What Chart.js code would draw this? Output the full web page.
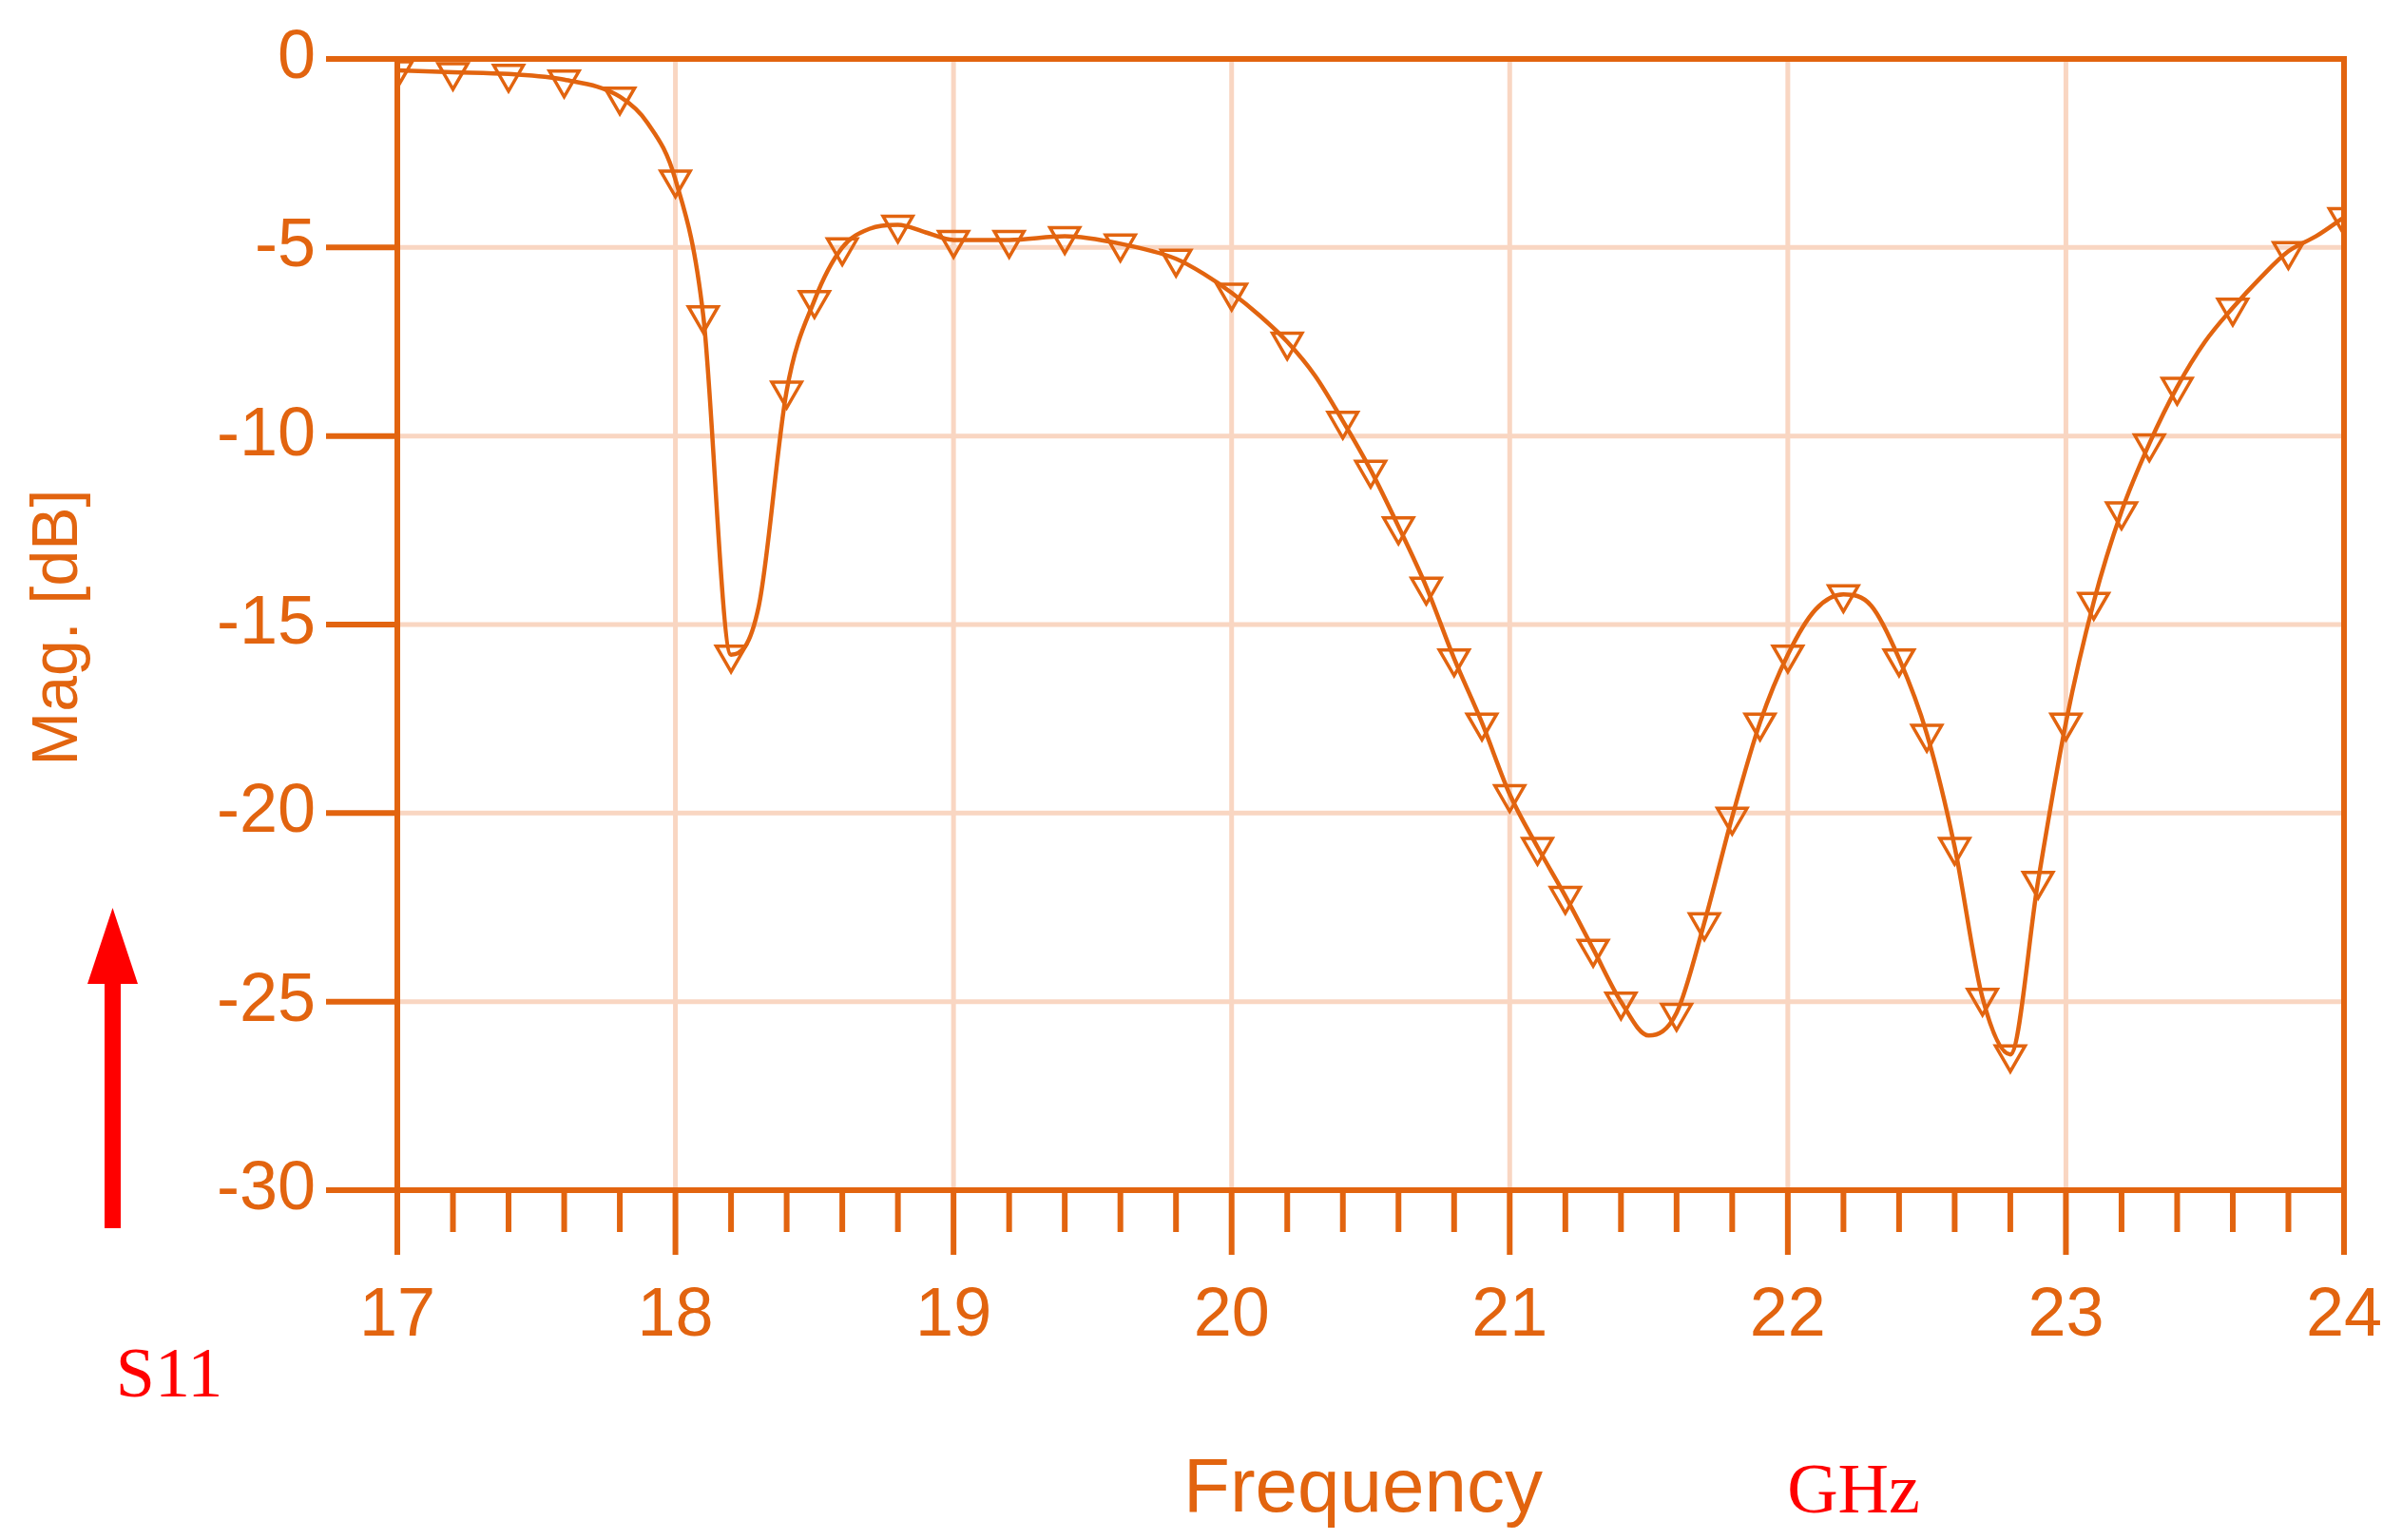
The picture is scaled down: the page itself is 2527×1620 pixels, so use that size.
<!DOCTYPE html>
<html><head><meta charset="utf-8">
<script src="https://cdn.jsdelivr.net/npm/chart.js@4/dist/chart.umd.min.js"></script>
<style>html,body{margin:0;padding:0;background:#fff}#w{width:2527px;height:1620px}</style>
</head><body><div id="w"><canvas id="c"></canvas></div>
<script>
const markerFreq = [17.0,17.2,17.4,17.6,17.8,18.0,18.1,18.2,18.4,18.5,18.6,18.8,19.0,19.2,19.4,19.6,19.8,20.0,20.2,20.4,20.5,20.6,20.7,20.8,20.9,21.0,21.1,21.2,21.3,21.4,21.6,21.7,21.8,21.9,22.0,22.2,22.4,22.5,22.6,22.7,22.8,22.9,23.0,23.1,23.2,23.3,23.4,23.6,23.8,24.0];
const markerMag = [-0.3,-0.35,-0.4,-0.55,-1.0,-3.2,-6.8,-15.8,-8.8,-6.4,-5.0,-4.4,-4.8,-4.8,-4.7,-4.9,-5.3,-6.2,-7.5,-9.6,-10.9,-12.4,-14.0,-15.9,-17.6,-19.5,-20.9,-22.2,-23.6,-25.0,-25.3,-22.9,-20.1,-17.6,-15.8,-14.2,-15.9,-17.9,-20.9,-24.9,-26.4,-21.8,-17.6,-14.4,-12.0,-10.2,-8.7,-6.6,-5.1,-4.2];
const extraFreq = [17.9,18.3,18.7,18.9,19.9,20.1,20.3,21.5,22.1,22.3,23.5,23.7,23.9];
const extraMag = [-1.7,-14.5,-4.5,-4.6,-5.7,-6.8,-8.4,-25.9,-14.6,-14.5,-7.5,-5.8,-4.7];
const yTicks = [0,-5,-10,-15,-20,-25,-30];
const xTicks = [17,18,19,20,21,22,23,24];

const ORANGE = '#e2640f', GRID = '#f9d6c2';
const FONT = '"Liberation Sans", Arial, sans-serif';
const linePts = markerFreq.map((f,i)=>({x:f,y:markerMag[i]})).concat(extraFreq.map((f,i)=>({x:f,y:extraMag[i]}))).sort((a,b)=>a.x-b.x);
const markPts = markerFreq.map((f,i)=>({x:f,y:markerMag[i]}));

const deco = {
  id:'deco',
  beforeDatasetsDraw(ch){
    const c=ch.ctx, a=ch.chartArea, xs=ch.scales.x, ys=ch.scales.y;
    c.save();
    c.strokeStyle=GRID; c.lineWidth=5;
    xTicks.forEach(v=>{const p=xs.getPixelForValue(v);c.beginPath();c.moveTo(p,a.top);c.lineTo(p,a.bottom);c.stroke();});
    yTicks.forEach(v=>{const p=ys.getPixelForValue(v);c.beginPath();c.moveTo(a.left,p);c.lineTo(a.right,p);c.stroke();});
    c.restore();
  },
  afterDraw(ch){
    const c=ch.ctx, a=ch.chartArea, xs=ch.scales.x, ys=ch.scales.y;
    c.save();
    c.strokeStyle=ORANGE; c.lineWidth=6;
    c.beginPath();c.moveTo(a.left,a.top);c.lineTo(a.right,a.top);c.lineTo(a.right,a.bottom);c.lineTo(a.left,a.bottom);c.closePath();c.stroke();
    yTicks.forEach(v=>{const p=ys.getPixelForValue(v);c.beginPath();c.moveTo(a.left-75,p);c.lineTo(a.left,p);c.stroke();});
    for(let i=0;i<=35;i++){const v=17+i*0.2;const p=xs.getPixelForValue(v);const maj=(i%5===0);
      c.beginPath();c.moveTo(p,a.bottom);c.lineTo(p,a.bottom+(maj?68:44));c.stroke();}
    c.fillStyle=ORANGE; c.font='72px '+FONT; c.textBaseline='middle';
    c.textAlign='right';
    yTicks.forEach(v=>c.fillText(String(v),332,ys.getPixelForValue(v)));
    c.textAlign='center';
    xTicks.forEach(v=>c.fillText(String(v),xs.getPixelForValue(v),1385));
    c.font='80px '+FONT;
    c.fillText('Frequency',1434,1568);
    c.save(); c.translate(62,660); c.rotate(-Math.PI/2); c.font='68px '+FONT; c.fillText('Mag. [dB]',0,0); c.restore();
    c.fillStyle='#f00'; c.font='74px "Liberation Serif", "Times New Roman", serif';
    c.fillText('GHz',1950,1572);
    c.fillText('S11',178,1450);
    c.fillRect(110,1030,17,262);
    c.beginPath();c.moveTo(92,1035);c.lineTo(145,1035);c.lineTo(118.5,955);c.closePath();c.fill();
    c.restore();
  }
};

new Chart(document.getElementById('c'),{
  data:{datasets:[
    {type:'line',data:linePts,borderColor:ORANGE,borderWidth:4.5,pointRadius:0,cubicInterpolationMode:'monotone'},
    {type:'scatter',data:markPts,showLine:false,pointStyle:'triangle',rotation:180,pointRadius:18,borderColor:ORANGE,backgroundColor:'rgba(255,255,255,0)',pointBorderWidth:3.5}
  ]},
  options:{responsive:true,maintainAspectRatio:false,animation:false,devicePixelRatio:1,
    layout:{padding:{top:62,right:61,left:0,bottom:0}},
    plugins:{legend:{display:false},tooltip:{enabled:false}},
    scales:{
      x:{type:'linear',min:17,max:24,afterFit:s=>{s.height=368;},
        grid:{display:false,drawTicks:false},border:{display:false},ticks:{display:false}},
      y:{type:'linear',min:-30,max:0,afterFit:s=>{s.width=418;},
        grid:{display:false,drawTicks:false},border:{display:false},ticks:{display:false}}
    }
  },
  plugins:[deco]
});
</script></body></html>
